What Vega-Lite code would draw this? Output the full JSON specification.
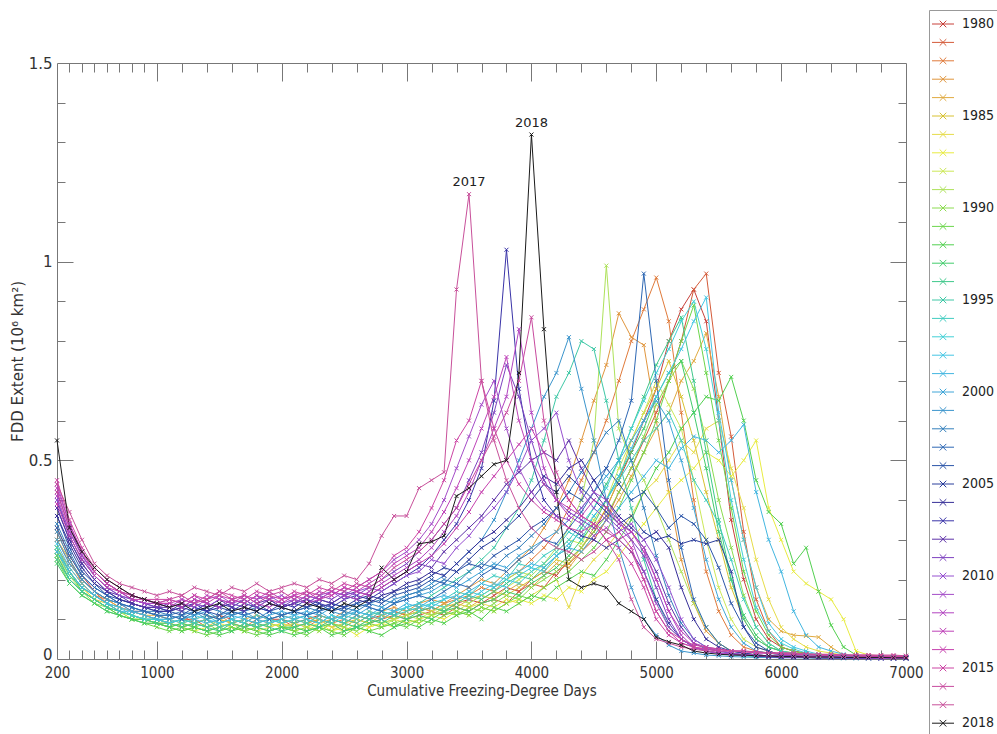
{
 "$schema": "https://vega.github.io/schema/vega-lite/v6.json",
 "width": 849,
 "height": 596,
 "autosize": {"type": "none"},
 "padding": {"left": 57, "top": 63, "right": 91, "bottom": 75},
 "background": "white",
 "config": {
  "view": {"stroke": "#777", "strokeWidth": 1},
  "font": "DejaVu Sans",
  "axis": {"grid": false, "domain": false, "tickColor": "#777", "tickWidth": 1, "labelColor": "#333", "titleColor": "#333"}
 },
 "resolve": {"axis": {"x": "independent", "y": "independent"}},
 "layer": [
  {
   "data": {"values": [
    {"year":1980,"x":[200,300,400,500,600,700,800,900,1000,1100,1200,1300,1400,1500,1600,1700,1800,1900,2000,2100,2200,2300,2400,2500,2600,2700,2800,2900,3000,3100,3200,3300,3400,3500,3600,3700,3800,3900,4000,4100,4200,4300,4400,4500,4600,4700,4800,4900,5000,5100,5200,5300,5400,5500,5600,5700,5800,5900,6000,6100,6200,6300,6400,6500,6600,6700,6800,6900,7000],"y":[0.33,0.26,0.21,0.17,0.15,0.14,0.12,0.12,0.11,0.10,0.11,0.09,0.10,0.11,0.10,0.09,0.11,0.10,0.10,0.09,0.10,0.11,0.10,0.09,0.11,0.10,0.11,0.12,0.11,0.12,0.13,0.12,0.14,0.15,0.14,0.16,0.18,0.17,0.20,0.22,0.21,0.25,0.28,0.32,0.38,0.45,0.52,0.60,0.68,0.80,0.88,0.93,0.85,0.60,0.35,0.20,0.10,0.05,0.03,0.02,0.015,0.01,0.01,0.008,0.006,0.005,0.005,0.004,0.004]},
    {"year":1981,"x":[200,300,400,500,600,700,800,900,1000,1100,1200,1300,1400,1500,1600,1700,1800,1900,2000,2100,2200,2300,2400,2500,2600,2700,2800,2900,3000,3100,3200,3300,3400,3500,3600,3700,3800,3900,4000,4100,4200,4300,4400,4500,4600,4700,4800,4900,5000,5100,5200,5300,5400,5500,5600,5700,5800,5900,6000,6100,6200,6300,6400,6500,6600,6700,6800,6900,7000],"y":[0.30,0.24,0.20,0.17,0.14,0.13,0.12,0.11,0.10,0.09,0.10,0.10,0.08,0.09,0.10,0.09,0.08,0.09,0.10,0.08,0.09,0.10,0.09,0.08,0.10,0.09,0.10,0.11,0.10,0.11,0.12,0.11,0.13,0.12,0.14,0.15,0.14,0.17,0.19,0.18,0.22,0.24,0.27,0.30,0.35,0.42,0.48,0.55,0.62,0.70,0.80,0.93,0.97,0.72,0.56,0.32,0.15,0.07,0.03,0.02,0.012,0.01,0.008,0.006,0.005,0.005,0.004,0.004,0.003]},
    {"year":1982,"x":[200,300,400,500,600,700,800,900,1000,1100,1200,1300,1400,1500,1600,1700,1800,1900,2000,2100,2200,2300,2400,2500,2600,2700,2800,2900,3000,3100,3200,3300,3400,3500,3600,3700,3800,3900,4000,4100,4200,4300,4400,4500,4600,4700,4800,4900,5000,5100,5200,5300,5400,5500,5600,5700,5800,5900,6000,6100,6200,6300,6400,6500,6600,6700,6800,6900,7000],"y":[0.32,0.25,0.19,0.16,0.15,0.13,0.12,0.11,0.10,0.09,0.08,0.09,0.10,0.08,0.09,0.08,0.10,0.09,0.08,0.09,0.08,0.10,0.09,0.10,0.09,0.11,0.10,0.12,0.11,0.13,0.12,0.14,0.15,0.16,0.18,0.17,0.20,0.22,0.25,0.28,0.32,0.38,0.45,0.52,0.60,0.70,0.80,0.88,0.96,0.85,0.62,0.40,0.22,0.12,0.06,0.03,0.02,0.015,0.01,0.008,0.006,0.005,0.005,0.004,0.004,0.003,0.003,0.003,0.003]},
    {"year":1983,"x":[200,300,400,500,600,700,800,900,1000,1100,1200,1300,1400,1500,1600,1700,1800,1900,2000,2100,2200,2300,2400,2500,2600,2700,2800,2900,3000,3100,3200,3300,3400,3500,3600,3700,3800,3900,4000,4100,4200,4300,4400,4500,4600,4700,4800,4900,5000,5100,5200,5300,5400,5500,5600,5700,5800,5900,6000,6100,6200,6300,6400,6500,6600,6700,6800,6900,7000],"y":[0.28,0.23,0.19,0.16,0.14,0.12,0.11,0.10,0.10,0.09,0.10,0.09,0.10,0.11,0.09,0.10,0.09,0.10,0.11,0.10,0.09,0.11,0.10,0.12,0.11,0.10,0.12,0.13,0.12,0.14,0.15,0.14,0.16,0.18,0.20,0.19,0.22,0.25,0.28,0.33,0.38,0.45,0.55,0.65,0.74,0.87,0.81,0.79,0.60,0.42,0.25,0.14,0.07,0.04,0.02,0.015,0.01,0.008,0.006,0.005,0.005,0.004,0.004,0.003,0.003,0.003,0.003,0.002,0.002]},
    {"year":1984,"x":[200,300,400,500,600,700,800,900,1000,1100,1200,1300,1400,1500,1600,1700,1800,1900,2000,2100,2200,2300,2400,2500,2600,2700,2800,2900,3000,3100,3200,3300,3400,3500,3600,3700,3800,3900,4000,4100,4200,4300,4400,4500,4600,4700,4800,4900,5000,5100,5200,5300,5400,5500,5600,5700,5800,5900,6000,6100,6200,6300,6400,6500,6600,6700,6800,6900,7000],"y":[0.30,0.25,0.20,0.17,0.15,0.13,0.12,0.11,0.11,0.10,0.09,0.10,0.11,0.10,0.09,0.10,0.11,0.10,0.09,0.10,0.11,0.09,0.10,0.11,0.10,0.12,0.11,0.10,0.12,0.13,0.12,0.14,0.13,0.15,0.16,0.15,0.17,0.19,0.18,0.21,0.24,0.23,0.27,0.31,0.35,0.40,0.46,0.52,0.58,0.62,0.70,0.75,0.82,0.66,0.45,0.30,0.18,0.10,0.07,0.06,0.058,0.055,0.03,0.01,0.006,0.005,0.004,0.004,0.003]},
    {"year":1985,"x":[200,300,400,500,600,700,800,900,1000,1100,1200,1300,1400,1500,1600,1700,1800,1900,2000,2100,2200,2300,2400,2500,2600,2700,2800,2900,3000,3100,3200,3300,3400,3500,3600,3700,3800,3900,4000,4100,4200,4300,4400,4500,4600,4700,4800,4900,5000,5100,5200,5300,5400,5500,5600,5700,5800,5900,6000,6100,6200,6300,6400,6500,6600,6700,6800,6900,7000],"y":[0.27,0.22,0.18,0.15,0.14,0.12,0.11,0.10,0.09,0.09,0.08,0.09,0.08,0.10,0.09,0.08,0.09,0.08,0.09,0.08,0.09,0.10,0.08,0.09,0.10,0.09,0.11,0.10,0.11,0.12,0.11,0.13,0.14,0.13,0.15,0.17,0.16,0.18,0.20,0.22,0.25,0.24,0.28,0.33,0.38,0.45,0.55,0.62,0.68,0.75,0.66,0.55,0.42,0.30,0.18,0.10,0.05,0.03,0.02,0.015,0.01,0.008,0.006,0.005,0.005,0.004,0.004,0.003,0.003]},
    {"year":1986,"x":[200,300,400,500,600,700,800,900,1000,1100,1200,1300,1400,1500,1600,1700,1800,1900,2000,2100,2200,2300,2400,2500,2600,2700,2800,2900,3000,3100,3200,3300,3400,3500,3600,3700,3800,3900,4000,4100,4200,4300,4400,4500,4600,4700,4800,4900,5000,5100,5200,5300,5400,5500,5600,5700,5800,5900,6000,6100,6200,6300,6400,6500,6600,6700,6800,6900,7000],"y":[0.26,0.21,0.18,0.15,0.13,0.12,0.11,0.10,0.09,0.08,0.09,0.08,0.07,0.08,0.09,0.08,0.07,0.08,0.09,0.08,0.07,0.09,0.08,0.07,0.09,0.08,0.09,0.10,0.09,0.10,0.11,0.12,0.11,0.13,0.14,0.13,0.15,0.14,0.16,0.18,0.20,0.13,0.21,0.25,0.28,0.32,0.36,0.42,0.45,0.50,0.55,0.52,0.58,0.60,0.48,0.38,0.25,0.15,0.08,0.05,0.03,0.02,0.015,0.01,0.008,0.006,0.005,0.004,0.004]},
    {"year":1987,"x":[200,300,400,500,600,700,800,900,1000,1100,1200,1300,1400,1500,1600,1700,1800,1900,2000,2100,2200,2300,2400,2500,2600,2700,2800,2900,3000,3100,3200,3300,3400,3500,3600,3700,3800,3900,4000,4100,4200,4300,4400,4500,4600,4700,4800,4900,5000,5100,5200,5300,5400,5500,5600,5700,5800,5900,6000,6100,6200,6300,6400,6500,6600,6700,6800,6900,7000],"y":[0.25,0.20,0.17,0.15,0.13,0.12,0.10,0.10,0.09,0.09,0.08,0.07,0.08,0.09,0.08,0.07,0.08,0.09,0.08,0.07,0.08,0.09,0.07,0.08,0.06,0.08,0.09,0.08,0.10,0.09,0.11,0.10,0.12,0.11,0.13,0.12,0.14,0.15,0.14,0.16,0.15,0.18,0.17,0.20,0.22,0.26,0.30,0.34,0.38,0.42,0.45,0.48,0.52,0.50,0.46,0.50,0.55,0.38,0.30,0.22,0.19,0.17,0.15,0.10,0.02,0.01,0.008,0.006,0.005]},
    {"year":1988,"x":[200,300,400,500,600,700,800,900,1000,1100,1200,1300,1400,1500,1600,1700,1800,1900,2000,2100,2200,2300,2400,2500,2600,2700,2800,2900,3000,3100,3200,3300,3400,3500,3600,3700,3800,3900,4000,4100,4200,4300,4400,4500,4600,4700,4800,4900,5000,5100,5200,5300,5400,5500,5600,5700,5800,5900,6000,6100,6200,6300,6400,6500,6600,6700,6800,6900,7000],"y":[0.28,0.22,0.18,0.16,0.14,0.12,0.11,0.10,0.10,0.09,0.08,0.09,0.10,0.08,0.07,0.09,0.08,0.09,0.08,0.09,0.08,0.07,0.09,0.08,0.10,0.09,0.08,0.10,0.11,0.10,0.12,0.13,0.12,0.14,0.16,0.15,0.18,0.20,0.22,0.24,0.27,0.30,0.29,0.35,0.40,0.48,0.55,0.62,0.70,0.64,0.58,0.45,0.30,0.18,0.10,0.05,0.03,0.02,0.01,0.008,0.006,0.005,0.005,0.004,0.004,0.003,0.003,0.003,0.003]},
    {"year":1989,"x":[200,300,400,500,600,700,800,900,1000,1100,1200,1300,1400,1500,1600,1700,1800,1900,2000,2100,2200,2300,2400,2500,2600,2700,2800,2900,3000,3100,3200,3300,3400,3500,3600,3700,3800,3900,4000,4100,4200,4300,4400,4500,4600,4700,4800,4900,5000,5100,5200,5300,5400,5500,5600,5700,5800,5900,6000,6100,6200,6300,6400,6500,6600,6700,6800,6900,7000],"y":[0.27,0.21,0.17,0.15,0.13,0.12,0.10,0.10,0.09,0.08,0.09,0.08,0.07,0.08,0.09,0.07,0.08,0.09,0.08,0.08,0.09,0.08,0.07,0.09,0.08,0.10,0.09,0.10,0.11,0.12,0.11,0.13,0.15,0.14,0.16,0.18,0.20,0.22,0.21,0.24,0.28,0.33,0.40,0.55,0.99,0.58,0.50,0.45,0.38,0.30,0.22,0.14,0.08,0.04,0.02,0.015,0.01,0.008,0.006,0.005,0.005,0.004,0.004,0.003,0.003,0.003,0.003,0.002,0.002]},
    {"year":1990,"x":[200,300,400,500,600,700,800,900,1000,1100,1200,1300,1400,1500,1600,1700,1800,1900,2000,2100,2200,2300,2400,2500,2600,2700,2800,2900,3000,3100,3200,3300,3400,3500,3600,3700,3800,3900,4000,4100,4200,4300,4400,4500,4600,4700,4800,4900,5000,5100,5200,5300,5400,5500,5600,5700,5800,5900,6000,6100,6200,6300,6400,6500,6600,6700,6800,6900,7000],"y":[0.26,0.20,0.17,0.14,0.13,0.11,0.10,0.09,0.09,0.08,0.07,0.08,0.09,0.07,0.08,0.07,0.08,0.07,0.08,0.07,0.08,0.07,0.09,0.08,0.07,0.09,0.08,0.09,0.10,0.09,0.11,0.12,0.11,0.13,0.12,0.14,0.16,0.15,0.18,0.20,0.22,0.25,0.28,0.32,0.36,0.42,0.48,0.56,0.64,0.70,0.75,0.68,0.55,0.40,0.28,0.16,0.08,0.04,0.02,0.015,0.01,0.008,0.006,0.005,0.004,0.004,0.003,0.003,0.003]},
    {"year":1991,"x":[200,300,400,500,600,700,800,900,1000,1100,1200,1300,1400,1500,1600,1700,1800,1900,2000,2100,2200,2300,2400,2500,2600,2700,2800,2900,3000,3100,3200,3300,3400,3500,3600,3700,3800,3900,4000,4100,4200,4300,4400,4500,4600,4700,4800,4900,5000,5100,5200,5300,5400,5500,5600,5700,5800,5900,6000,6100,6200,6300,6400,6500,6600,6700,6800,6900,7000],"y":[0.25,0.19,0.16,0.14,0.12,0.11,0.10,0.09,0.08,0.07,0.08,0.07,0.06,0.07,0.08,0.07,0.06,0.07,0.08,0.07,0.06,0.08,0.07,0.06,0.08,0.07,0.08,0.09,0.08,0.10,0.09,0.11,0.12,0.11,0.13,0.12,0.14,0.16,0.15,0.18,0.20,0.22,0.25,0.28,0.32,0.38,0.45,0.52,0.60,0.70,0.80,0.89,0.72,0.55,0.38,0.22,0.12,0.06,0.03,0.02,0.012,0.01,0.008,0.006,0.005,0.004,0.004,0.003,0.003]},
    {"year":1992,"x":[200,300,400,500,600,700,800,900,1000,1100,1200,1300,1400,1500,1600,1700,1800,1900,2000,2100,2200,2300,2400,2500,2600,2700,2800,2900,3000,3100,3200,3300,3400,3500,3600,3700,3800,3900,4000,4100,4200,4300,4400,4500,4600,4700,4800,4900,5000,5100,5200,5300,5400,5500,5600,5700,5800,5900,6000,6100,6200,6300,6400,6500,6600,6700,6800,6900,7000],"y":[0.28,0.22,0.17,0.15,0.13,0.11,0.10,0.10,0.09,0.08,0.07,0.08,0.07,0.06,0.07,0.08,0.07,0.06,0.07,0.06,0.07,0.08,0.06,0.07,0.08,0.07,0.06,0.08,0.09,0.08,0.10,0.09,0.11,0.12,0.10,0.13,0.12,0.14,0.16,0.15,0.18,0.20,0.22,0.21,0.25,0.30,0.35,0.42,0.48,0.52,0.58,0.62,0.66,0.65,0.71,0.60,0.45,0.37,0.34,0.24,0.28,0.17,0.085,0.03,0.01,0.006,0.005,0.004,0.004]},
    {"year":1993,"x":[200,300,400,500,600,700,800,900,1000,1100,1200,1300,1400,1500,1600,1700,1800,1900,2000,2100,2200,2300,2400,2500,2600,2700,2800,2900,3000,3100,3200,3300,3400,3500,3600,3700,3800,3900,4000,4100,4200,4300,4400,4500,4600,4700,4800,4900,5000,5100,5200,5300,5400,5500,5600,5700,5800,5900,6000,6100,6200,6300,6400,6500,6600,6700,6800,6900,7000],"y":[0.24,0.19,0.16,0.14,0.12,0.11,0.10,0.09,0.09,0.08,0.09,0.08,0.07,0.08,0.07,0.09,0.08,0.07,0.08,0.08,0.07,0.08,0.09,0.07,0.08,0.09,0.10,0.08,0.10,0.11,0.10,0.12,0.13,0.12,0.14,0.15,0.17,0.16,0.19,0.21,0.23,0.26,0.30,0.34,0.40,0.46,0.52,0.58,0.66,0.72,0.75,0.62,0.48,0.32,0.20,0.11,0.06,0.03,0.02,0.012,0.01,0.008,0.006,0.005,0.004,0.004,0.003,0.003,0.003]},
    {"year":1994,"x":[200,300,400,500,600,700,800,900,1000,1100,1200,1300,1400,1500,1600,1700,1800,1900,2000,2100,2200,2300,2400,2500,2600,2700,2800,2900,3000,3100,3200,3300,3400,3500,3600,3700,3800,3900,4000,4100,4200,4300,4400,4500,4600,4700,4800,4900,5000,5100,5200,5300,5400,5500,5600,5700,5800,5900,6000,6100,6200,6300,6400,6500,6600,6700,6800,6900,7000],"y":[0.26,0.20,0.17,0.15,0.13,0.12,0.11,0.10,0.09,0.09,0.08,0.09,0.08,0.07,0.09,0.08,0.09,0.08,0.07,0.08,0.09,0.08,0.10,0.09,0.08,0.10,0.09,0.11,0.10,0.12,0.13,0.12,0.14,0.16,0.15,0.17,0.19,0.21,0.20,0.23,0.26,0.28,0.33,0.38,0.44,0.50,0.58,0.66,0.74,0.80,0.86,0.70,0.52,0.35,0.20,0.10,0.05,0.03,0.02,0.012,0.01,0.008,0.006,0.005,0.004,0.004,0.003,0.003,0.003]},
    {"year":1995,"x":[200,300,400,500,600,700,800,900,1000,1100,1200,1300,1400,1500,1600,1700,1800,1900,2000,2100,2200,2300,2400,2500,2600,2700,2800,2900,3000,3100,3200,3300,3400,3500,3600,3700,3800,3900,4000,4100,4200,4300,4400,4500,4600,4700,4800,4900,5000,5100,5200,5300,5400,5500,5600,5700,5800,5900,6000,6100,6200,6300,6400,6500,6600,6700,6800,6900,7000],"y":[0.25,0.20,0.17,0.15,0.13,0.12,0.11,0.10,0.10,0.09,0.10,0.09,0.08,0.09,0.10,0.09,0.08,0.09,0.10,0.09,0.10,0.09,0.11,0.10,0.09,0.11,0.12,0.11,0.13,0.14,0.16,0.18,0.20,0.22,0.25,0.28,0.33,0.38,0.45,0.55,0.66,0.72,0.80,0.78,0.65,0.50,0.38,0.25,0.15,0.08,0.05,0.03,0.02,0.015,0.01,0.008,0.006,0.005,0.004,0.004,0.003,0.003,0.003,0.002,0.002,0.002,0.002,0.002,0.002]},
    {"year":1996,"x":[200,300,400,500,600,700,800,900,1000,1100,1200,1300,1400,1500,1600,1700,1800,1900,2000,2100,2200,2300,2400,2500,2600,2700,2800,2900,3000,3100,3200,3300,3400,3500,3600,3700,3800,3900,4000,4100,4200,4300,4400,4500,4600,4700,4800,4900,5000,5100,5200,5300,5400,5500,5600,5700,5800,5900,6000,6100,6200,6300,6400,6500,6600,6700,6800,6900,7000],"y":[0.27,0.21,0.18,0.16,0.14,0.12,0.11,0.10,0.10,0.09,0.10,0.09,0.10,0.08,0.09,0.10,0.09,0.10,0.09,0.10,0.09,0.11,0.10,0.09,0.11,0.10,0.12,0.11,0.12,0.13,0.14,0.15,0.17,0.16,0.19,0.21,0.20,0.24,0.23,0.26,0.28,0.32,0.30,0.36,0.40,0.45,0.50,0.55,0.58,0.62,0.55,0.45,0.40,0.34,0.25,0.15,0.08,0.04,0.02,0.015,0.01,0.008,0.006,0.005,0.004,0.004,0.003,0.003,0.003]},
    {"year":1997,"x":[200,300,400,500,600,700,800,900,1000,1100,1200,1300,1400,1500,1600,1700,1800,1900,2000,2100,2200,2300,2400,2500,2600,2700,2800,2900,3000,3100,3200,3300,3400,3500,3600,3700,3800,3900,4000,4100,4200,4300,4400,4500,4600,4700,4800,4900,5000,5100,5200,5300,5400,5500,5600,5700,5800,5900,6000,6100,6200,6300,6400,6500,6600,6700,6800,6900,7000],"y":[0.28,0.22,0.18,0.16,0.14,0.13,0.11,0.10,0.10,0.10,0.09,0.10,0.11,0.09,0.10,0.09,0.11,0.10,0.09,0.10,0.11,0.10,0.09,0.11,0.10,0.12,0.11,0.12,0.13,0.12,0.14,0.13,0.15,0.17,0.16,0.18,0.20,0.19,0.22,0.24,0.27,0.30,0.34,0.38,0.43,0.50,0.58,0.65,0.72,0.78,0.85,0.90,0.78,0.60,0.40,0.25,0.13,0.07,0.04,0.025,0.015,0.01,0.008,0.006,0.005,0.004,0.004,0.003,0.003]},
    {"year":1998,"x":[200,300,400,500,600,700,800,900,1000,1100,1200,1300,1400,1500,1600,1700,1800,1900,2000,2100,2200,2300,2400,2500,2600,2700,2800,2900,3000,3100,3200,3300,3400,3500,3600,3700,3800,3900,4000,4100,4200,4300,4400,4500,4600,4700,4800,4900,5000,5100,5200,5300,5400,5500,5600,5700,5800,5900,6000,6100,6200,6300,6400,6500,6600,6700,6800,6900,7000],"y":[0.29,0.23,0.19,0.16,0.14,0.13,0.12,0.11,0.10,0.09,0.10,0.11,0.10,0.09,0.10,0.11,0.10,0.09,0.10,0.11,0.10,0.09,0.11,0.10,0.12,0.11,0.10,0.12,0.13,0.14,0.13,0.15,0.16,0.15,0.17,0.19,0.18,0.21,0.23,0.22,0.26,0.29,0.32,0.36,0.40,0.46,0.53,0.60,0.66,0.72,0.78,0.85,0.91,0.62,0.45,0.30,0.18,0.09,0.05,0.03,0.02,0.012,0.008,0.006,0.005,0.004,0.004,0.003,0.003]},
    {"year":1999,"x":[200,300,400,500,600,700,800,900,1000,1100,1200,1300,1400,1500,1600,1700,1800,1900,2000,2100,2200,2300,2400,2500,2600,2700,2800,2900,3000,3100,3200,3300,3400,3500,3600,3700,3800,3900,4000,4100,4200,4300,4400,4500,4600,4700,4800,4900,5000,5100,5200,5300,5400,5500,5600,5700,5800,5900,6000,6100,6200,6300,6400,6500,6600,6700,6800,6900,7000],"y":[0.27,0.22,0.18,0.16,0.14,0.12,0.12,0.11,0.10,0.10,0.11,0.10,0.09,0.10,0.11,0.10,0.09,0.10,0.11,0.10,0.11,0.12,0.10,0.11,0.12,0.11,0.13,0.12,0.14,0.13,0.15,0.16,0.15,0.17,0.19,0.18,0.21,0.22,0.24,0.23,0.26,0.28,0.27,0.31,0.35,0.38,0.42,0.46,0.50,0.48,0.53,0.56,0.55,0.52,0.55,0.59,0.42,0.30,0.22,0.12,0.06,0.03,0.02,0.012,0.008,0.006,0.005,0.004,0.004]},
    {"year":2000,"x":[200,300,400,500,600,700,800,900,1000,1100,1200,1300,1400,1500,1600,1700,1800,1900,2000,2100,2200,2300,2400,2500,2600,2700,2800,2900,3000,3100,3200,3300,3400,3500,3600,3700,3800,3900,4000,4100,4200,4300,4400,4500,4600,4700,4800,4900,5000,5100,5200,5300,5400,5500,5600,5700,5800,5900,6000,6100,6200,6300,6400,6500,6600,6700,6800,6900,7000],"y":[0.30,0.24,0.20,0.17,0.15,0.14,0.12,0.12,0.11,0.11,0.10,0.11,0.12,0.10,0.11,0.12,0.10,0.11,0.12,0.11,0.12,0.11,0.13,0.12,0.11,0.13,0.12,0.14,0.15,0.16,0.17,0.19,0.18,0.20,0.22,0.24,0.23,0.26,0.28,0.30,0.32,0.35,0.38,0.42,0.46,0.50,0.55,0.60,0.65,0.60,0.50,0.38,0.25,0.15,0.08,0.04,0.02,0.015,0.01,0.008,0.006,0.005,0.004,0.004,0.003,0.003,0.003,0.002,0.002]},
    {"year":2001,"x":[200,300,400,500,600,700,800,900,1000,1100,1200,1300,1400,1500,1600,1700,1800,1900,2000,2100,2200,2300,2400,2500,2600,2700,2800,2900,3000,3100,3200,3300,3400,3500,3600,3700,3800,3900,4000,4100,4200,4300,4400,4500,4600,4700,4800,4900,5000,5100,5200,5300,5400,5500,5600,5700,5800,5900,6000,6100,6200,6300,6400,6500,6600,6700,6800,6900,7000],"y":[0.32,0.25,0.20,0.17,0.15,0.14,0.13,0.12,0.11,0.10,0.11,0.12,0.10,0.11,0.12,0.11,0.10,0.12,0.11,0.12,0.11,0.13,0.12,0.11,0.13,0.14,0.13,0.15,0.16,0.17,0.19,0.21,0.24,0.27,0.30,0.35,0.42,0.50,0.58,0.66,0.72,0.81,0.68,0.55,0.40,0.28,0.18,0.10,0.06,0.035,0.02,0.015,0.01,0.008,0.006,0.005,0.004,0.004,0.003,0.003,0.003,0.003,0.002,0.002,0.002,0.002,0.002,0.002,0.002]},
    {"year":2002,"x":[200,300,400,500,600,700,800,900,1000,1100,1200,1300,1400,1500,1600,1700,1800,1900,2000,2100,2200,2300,2400,2500,2600,2700,2800,2900,3000,3100,3200,3300,3400,3500,3600,3700,3800,3900,4000,4100,4200,4300,4400,4500,4600,4700,4800,4900,5000,5100,5200,5300,5400,5500,5600,5700,5800,5900,6000,6100,6200,6300,6400,6500,6600,6700,6800,6900,7000],"y":[0.34,0.27,0.21,0.18,0.16,0.14,0.13,0.12,0.12,0.11,0.12,0.11,0.13,0.12,0.11,0.12,0.13,0.12,0.11,0.12,0.13,0.12,0.14,0.13,0.12,0.14,0.15,0.14,0.16,0.17,0.18,0.20,0.19,0.22,0.24,0.23,0.26,0.28,0.31,0.34,0.38,0.42,0.47,0.52,0.57,0.60,0.50,0.38,0.26,0.16,0.09,0.05,0.03,0.02,0.015,0.01,0.008,0.006,0.005,0.004,0.004,0.003,0.003,0.003,0.002,0.002,0.002,0.002,0.002]},
    {"year":2003,"x":[200,300,400,500,600,700,800,900,1000,1100,1200,1300,1400,1500,1600,1700,1800,1900,2000,2100,2200,2300,2400,2500,2600,2700,2800,2900,3000,3100,3200,3300,3400,3500,3600,3700,3800,3900,4000,4100,4200,4300,4400,4500,4600,4700,4800,4900,5000,5100,5200,5300,5400,5500,5600,5700,5800,5900,6000,6100,6200,6300,6400,6500,6600,6700,6800,6900,7000],"y":[0.33,0.26,0.21,0.18,0.16,0.14,0.13,0.12,0.11,0.11,0.10,0.12,0.11,0.10,0.12,0.11,0.12,0.10,0.11,0.12,0.11,0.12,0.13,0.12,0.14,0.13,0.12,0.14,0.15,0.16,0.15,0.17,0.19,0.18,0.21,0.23,0.22,0.25,0.27,0.30,0.29,0.33,0.37,0.42,0.48,0.55,0.65,0.97,0.70,0.45,0.28,0.15,0.08,0.04,0.02,0.015,0.01,0.008,0.006,0.005,0.004,0.004,0.003,0.003,0.003,0.002,0.002,0.002,0.002]},
    {"year":2004,"x":[200,300,400,500,600,700,800,900,1000,1100,1200,1300,1400,1500,1600,1700,1800,1900,2000,2100,2200,2300,2400,2500,2600,2700,2800,2900,3000,3100,3200,3300,3400,3500,3600,3700,3800,3900,4000,4100,4200,4300,4400,4500,4600,4700,4800,4900,5000,5100,5200,5300,5400,5500,5600,5700,5800,5900,6000,6100,6200,6300,6400,6500,6600,6700,6800,6900,7000],"y":[0.36,0.28,0.22,0.19,0.16,0.15,0.14,0.13,0.12,0.12,0.11,0.13,0.12,0.11,0.13,0.12,0.14,0.12,0.13,0.12,0.13,0.14,0.12,0.13,0.14,0.15,0.14,0.16,0.17,0.18,0.20,0.19,0.22,0.24,0.23,0.26,0.28,0.30,0.33,0.35,0.38,0.42,0.40,0.45,0.48,0.44,0.40,0.42,0.38,0.33,0.36,0.34,0.30,0.23,0.14,0.08,0.04,0.02,0.01,0.008,0.006,0.005,0.004,0.004,0.003,0.003,0.003,0.002,0.002]},
    {"year":2005,"x":[200,300,400,500,600,700,800,900,1000,1100,1200,1300,1400,1500,1600,1700,1800,1900,2000,2100,2200,2300,2400,2500,2600,2700,2800,2900,3000,3100,3200,3300,3400,3500,3600,3700,3800,3900,4000,4100,4200,4300,4400,4500,4600,4700,4800,4900,5000,5100,5200,5300,5400,5500,5600,5700,5800,5900,6000,6100,6200,6300,6400,6500,6600,6700,6800,6900,7000],"y":[0.38,0.30,0.24,0.20,0.17,0.15,0.14,0.13,0.13,0.12,0.13,0.12,0.14,0.13,0.12,0.14,0.13,0.15,0.13,0.14,0.13,0.15,0.14,0.13,0.15,0.16,0.15,0.17,0.18,0.19,0.21,0.23,0.22,0.25,0.28,0.30,0.33,0.36,0.40,0.44,0.42,0.46,0.43,0.40,0.37,0.34,0.36,0.32,0.30,0.31,0.29,0.30,0.29,0.30,0.22,0.08,0.03,0.02,0.01,0.008,0.006,0.005,0.004,0.004,0.003,0.003,0.003,0.002,0.002]},
    {"year":2006,"x":[200,300,400,500,600,700,800,900,1000,1100,1200,1300,1400,1500,1600,1700,1800,1900,2000,2100,2200,2300,2400,2500,2600,2700,2800,2900,3000,3100,3200,3300,3400,3500,3600,3700,3800,3900,4000,4100,4200,4300,4400,4500,4600,4700,4800,4900,5000,5100,5200,5300,5400,5500,5600,5700,5800,5900,6000,6100,6200,6300,6400,6500,6600,6700,6800,6900,7000],"y":[0.36,0.29,0.23,0.19,0.17,0.15,0.14,0.13,0.12,0.12,0.13,0.14,0.12,0.13,0.14,0.13,0.12,0.14,0.13,0.14,0.15,0.13,0.14,0.16,0.15,0.14,0.16,0.17,0.19,0.20,0.22,0.21,0.24,0.27,0.30,0.32,0.35,0.38,0.42,0.46,0.44,0.48,0.50,0.45,0.40,0.36,0.33,0.30,0.32,0.28,0.18,0.10,0.05,0.03,0.02,0.015,0.01,0.008,0.006,0.005,0.005,0.004,0.004,0.003,0.003,0.003,0.002,0.002,0.002]},
    {"year":2007,"x":[200,300,400,500,600,700,800,900,1000,1100,1200,1300,1400,1500,1600,1700,1800,1900,2000,2100,2200,2300,2400,2500,2600,2700,2800,2900,3000,3100,3200,3300,3400,3500,3600,3700,3800,3900,4000,4100,4200,4300,4400,4500,4600,4700,4800,4900,5000,5100,5200,5300,5400,5500,5600,5700,5800,5900,6000,6100,6200,6300,6400,6500,6600,6700,6800,6900,7000],"y":[0.40,0.31,0.25,0.21,0.18,0.16,0.15,0.14,0.13,0.12,0.14,0.13,0.12,0.14,0.13,0.15,0.13,0.12,0.14,0.13,0.15,0.14,0.13,0.15,0.16,0.15,0.17,0.19,0.21,0.23,0.26,0.30,0.34,0.40,0.48,0.65,1.03,0.68,0.50,0.40,0.36,0.33,0.31,0.30,0.28,0.30,0.27,0.22,0.15,0.09,0.05,0.03,0.02,0.015,0.012,0.01,0.008,0.006,0.005,0.004,0.004,0.003,0.003,0.003,0.003,0.002,0.002,0.002,0.002]},
    {"year":2008,"x":[200,300,400,500,600,700,800,900,1000,1100,1200,1300,1400,1500,1600,1700,1800,1900,2000,2100,2200,2300,2400,2500,2600,2700,2800,2900,3000,3100,3200,3300,3400,3500,3600,3700,3800,3900,4000,4100,4200,4300,4400,4500,4600,4700,4800,4900,5000,5100,5200,5300,5400,5500,5600,5700,5800,5900,6000,6100,6200,6300,6400,6500,6600,6700,6800,6900,7000],"y":[0.38,0.30,0.24,0.20,0.17,0.16,0.14,0.13,0.13,0.13,0.12,0.14,0.13,0.15,0.13,0.12,0.14,0.15,0.13,0.14,0.16,0.15,0.14,0.16,0.17,0.16,0.18,0.20,0.22,0.24,0.23,0.27,0.30,0.33,0.36,0.40,0.44,0.47,0.50,0.52,0.50,0.55,0.48,0.42,0.38,0.35,0.32,0.28,0.22,0.14,0.08,0.04,0.025,0.02,0.015,0.01,0.008,0.006,0.005,0.004,0.004,0.003,0.003,0.003,0.003,0.002,0.002,0.002,0.002]},
    {"year":2009,"x":[200,300,400,500,600,700,800,900,1000,1100,1200,1300,1400,1500,1600,1700,1800,1900,2000,2100,2200,2300,2400,2500,2600,2700,2800,2900,3000,3100,3200,3300,3400,3500,3600,3700,3800,3900,4000,4100,4200,4300,4400,4500,4600,4700,4800,4900,5000,5100,5200,5300,5400,5500,5600,5700,5800,5900,6000,6100,6200,6300,6400,6500,6600,6700,6800,6900,7000],"y":[0.42,0.33,0.26,0.22,0.19,0.17,0.15,0.14,0.13,0.14,0.13,0.15,0.14,0.13,0.15,0.14,0.16,0.14,0.13,0.15,0.14,0.16,0.15,0.17,0.16,0.18,0.20,0.22,0.24,0.27,0.30,0.34,0.38,0.45,0.52,0.62,0.74,0.66,0.55,0.45,0.40,0.37,0.35,0.33,0.36,0.33,0.30,0.26,0.18,0.10,0.05,0.03,0.02,0.015,0.012,0.01,0.008,0.006,0.005,0.005,0.004,0.004,0.003,0.003,0.003,0.003,0.002,0.002,0.002]},
    {"year":2010,"x":[200,300,400,500,600,700,800,900,1000,1100,1200,1300,1400,1500,1600,1700,1800,1900,2000,2100,2200,2300,2400,2500,2600,2700,2800,2900,3000,3100,3200,3300,3400,3500,3600,3700,3800,3900,4000,4100,4200,4300,4400,4500,4600,4700,4800,4900,5000,5100,5200,5300,5400,5500,5600,5700,5800,5900,6000,6100,6200,6300,6400,6500,6600,6700,6800,6900,7000],"y":[0.40,0.32,0.26,0.21,0.18,0.16,0.15,0.14,0.14,0.13,0.15,0.14,0.13,0.15,0.14,0.13,0.15,0.16,0.14,0.15,0.14,0.16,0.17,0.15,0.17,0.18,0.17,0.19,0.21,0.22,0.25,0.24,0.28,0.31,0.35,0.38,0.42,0.48,0.55,0.58,0.62,0.50,0.42,0.38,0.35,0.32,0.34,0.30,0.25,0.18,0.10,0.05,0.03,0.02,0.015,0.012,0.01,0.008,0.006,0.005,0.005,0.004,0.004,0.003,0.003,0.003,0.002,0.002,0.002]},
    {"year":2011,"x":[200,300,400,500,600,700,800,900,1000,1100,1200,1300,1400,1500,1600,1700,1800,1900,2000,2100,2200,2300,2400,2500,2600,2700,2800,2900,3000,3100,3200,3300,3400,3500,3600,3700,3800,3900,4000,4100,4200,4300,4400,4500,4600,4700,4800,4900,5000,5100,5200,5300,5400,5500,5600,5700,5800,5900,6000,6100,6200,6300,6400,6500,6600,6700,6800,6900,7000],"y":[0.44,0.34,0.27,0.22,0.19,0.17,0.16,0.15,0.14,0.15,0.14,0.13,0.15,0.16,0.14,0.15,0.13,0.15,0.16,0.14,0.16,0.15,0.17,0.16,0.18,0.20,0.22,0.25,0.27,0.30,0.34,0.40,0.48,0.56,0.64,0.70,0.58,0.48,0.42,0.38,0.36,0.35,0.38,0.42,0.40,0.35,0.30,0.22,0.14,0.08,0.05,0.03,0.02,0.015,0.012,0.01,0.01,0.008,0.008,0.006,0.006,0.005,0.005,0.004,0.004,0.004,0.003,0.003,0.003]},
    {"year":2012,"x":[200,300,400,500,600,700,800,900,1000,1100,1200,1300,1400,1500,1600,1700,1800,1900,2000,2100,2200,2300,2400,2500,2600,2700,2800,2900,3000,3100,3200,3300,3400,3500,3600,3700,3800,3900,4000,4100,4200,4300,4400,4500,4600,4700,4800,4900,5000,5100,5200,5300,5400,5500,5600,5700,5800,5900,6000,6100,6200,6300,6400,6500,6600,6700,6800,6900,7000],"y":[0.41,0.32,0.26,0.22,0.19,0.17,0.15,0.14,0.14,0.13,0.14,0.16,0.14,0.13,0.15,0.16,0.14,0.13,0.15,0.16,0.14,0.15,0.17,0.16,0.15,0.17,0.19,0.21,0.23,0.25,0.28,0.32,0.36,0.42,0.50,0.58,0.66,0.83,0.62,0.48,0.40,0.36,0.34,0.31,0.33,0.30,0.32,0.28,0.20,0.12,0.06,0.03,0.02,0.015,0.012,0.01,0.01,0.008,0.008,0.007,0.006,0.005,0.005,0.004,0.004,0.004,0.003,0.003,0.003]},
    {"year":2013,"x":[200,300,400,500,600,700,800,900,1000,1100,1200,1300,1400,1500,1600,1700,1800,1900,2000,2100,2200,2300,2400,2500,2600,2700,2800,2900,3000,3100,3200,3300,3400,3500,3600,3700,3800,3900,4000,4100,4200,4300,4400,4500,4600,4700,4800,4900,5000,5100,5200,5300,5400,5500,5600,5700,5800,5900,6000,6100,6200,6300,6400,6500,6600,6700,6800,6900,7000],"y":[0.43,0.34,0.27,0.22,0.19,0.17,0.16,0.15,0.14,0.14,0.15,0.14,0.16,0.15,0.14,0.16,0.15,0.17,0.15,0.16,0.15,0.17,0.16,0.18,0.17,0.19,0.21,0.24,0.26,0.28,0.32,0.37,0.43,0.50,0.58,0.66,0.76,0.60,0.50,0.44,0.40,0.38,0.36,0.40,0.38,0.34,0.32,0.27,0.20,0.12,0.07,0.04,0.03,0.025,0.02,0.02,0.015,0.015,0.012,0.01,0.01,0.01,0.008,0.008,0.007,0.006,0.006,0.005,0.005]},
    {"year":2014,"x":[200,300,400,500,600,700,800,900,1000,1100,1200,1300,1400,1500,1600,1700,1800,1900,2000,2100,2200,2300,2400,2500,2600,2700,2800,2900,3000,3100,3200,3300,3400,3500,3600,3700,3800,3900,4000,4100,4200,4300,4400,4500,4600,4700,4800,4900,5000,5100,5200,5300,5400,5500,5600,5700,5800,5900,6000,6100,6200,6300,6400,6500,6600,6700,6800,6900,7000],"y":[0.39,0.31,0.25,0.21,0.18,0.17,0.15,0.15,0.14,0.14,0.13,0.15,0.14,0.16,0.15,0.14,0.16,0.15,0.14,0.16,0.17,0.15,0.16,0.18,0.17,0.16,0.18,0.20,0.22,0.24,0.26,0.29,0.33,0.37,0.42,0.46,0.50,0.54,0.58,0.52,0.45,0.40,0.36,0.34,0.30,0.32,0.28,0.20,0.12,0.07,0.04,0.03,0.025,0.02,0.02,0.018,0.015,0.015,0.012,0.012,0.01,0.01,0.01,0.008,0.008,0.007,0.006,0.006,0.005]},
    {"year":2015,"x":[200,300,400,500,600,700,800,900,1000,1100,1200,1300,1400,1500,1600,1700,1800,1900,2000,2100,2200,2300,2400,2500,2600,2700,2800,2900,3000,3100,3200,3300,3400,3500,3600,3700,3800,3900,4000,4100,4200,4300,4400,4500,4600,4700,4800,4900,5000,5100,5200,5300,5400,5500,5600,5700,5800,5900,6000,6100,6200,6300,6400,6500,6600,6700,6800,6900,7000],"y":[0.45,0.35,0.28,0.23,0.20,0.18,0.16,0.15,0.15,0.15,0.14,0.16,0.15,0.17,0.16,0.15,0.17,0.16,0.15,0.17,0.16,0.18,0.17,0.19,0.18,0.20,0.22,0.26,0.28,0.32,0.38,0.45,0.55,0.60,0.70,0.58,0.50,0.44,0.40,0.37,0.35,0.33,0.32,0.34,0.30,0.28,0.24,0.18,0.10,0.06,0.04,0.03,0.025,0.025,0.02,0.02,0.018,0.015,0.015,0.015,0.012,0.012,0.01,0.01,0.01,0.01,0.008,0.008,0.008]},
    {"year":2016,"x":[200,300,400,500,600,700,800,900,1000,1100,1200,1300,1400,1500,1600,1700,1800,1900,2000,2100,2200,2300,2400,2500,2600,2700,2800,2900,3000,3100,3200,3300,3400,3500,3600,3700,3800,3900,4000,4100,4200,4300,4400,4500,4600,4700,4800,4900,5000,5100,5200,5300,5400,5500,5600,5700,5800,5900,6000,6100,6200,6300,6400,6500,6600,6700,6800,6900,7000],"y":[0.42,0.33,0.27,0.22,0.19,0.17,0.16,0.15,0.14,0.15,0.16,0.14,0.15,0.17,0.15,0.16,0.14,0.16,0.17,0.15,0.17,0.16,0.18,0.17,0.19,0.18,0.20,0.23,0.25,0.27,0.30,0.34,0.38,0.44,0.50,0.56,0.62,0.70,0.86,0.60,0.47,0.40,0.36,0.34,0.32,0.30,0.27,0.20,0.12,0.07,0.05,0.035,0.03,0.025,0.02,0.02,0.018,0.015,0.015,0.012,0.012,0.01,0.01,0.01,0.008,0.008,0.008,0.007,0.007]},
    {"year":2017,"x":[200,300,400,500,600,700,800,900,1000,1100,1200,1300,1400,1500,1600,1700,1800,1900,2000,2100,2200,2300,2400,2500,2600,2700,2800,2900,3000,3100,3200,3300,3400,3500,3600,3700,3800,3900,4000,4100,4200,4300,4400,4500,4600,4700,4800,4900,5000,5100,5200,5300,5400,5500,5600,5700,5800,5900,6000,6100,6200,6300,6400,6500,6600,6700,6800,6900,7000],"y":[0.44,0.37,0.30,0.24,0.21,0.19,0.18,0.17,0.16,0.17,0.16,0.18,0.17,0.16,0.18,0.17,0.19,0.17,0.18,0.19,0.18,0.20,0.19,0.21,0.20,0.24,0.31,0.36,0.36,0.43,0.45,0.47,0.93,1.17,0.70,0.55,0.45,0.38,0.33,0.30,0.28,0.27,0.25,0.27,0.30,0.25,0.15,0.08,0.05,0.04,0.03,0.025,0.02,0.02,0.02,0.018,0.018,0.015,0.015,0.015,0.012,0.012,0.012,0.01,0.01,0.01,0.01,0.01,0.008]},
    {"year":2018,"x":[200,300,400,500,600,700,800,900,1000,1100,1200,1300,1400,1500,1600,1700,1800,1900,2000,2100,2200,2300,2400,2500,2600,2700,2800,2900,3000,3100,3200,3300,3400,3500,3600,3700,3800,3900,4000,4100,4200,4300,4400,4500,4600,4700,4800,4900,5000,5100,5200,5300,5400,5500,5600,5700,5800,5900,6000,6100,6200,6300,6400,6500,6600,6700,6800,6900,7000],"y":[0.55,0.33,0.27,0.23,0.20,0.18,0.16,0.15,0.14,0.13,0.14,0.12,0.13,0.14,0.12,0.13,0.12,0.14,0.13,0.12,0.14,0.13,0.12,0.14,0.13,0.15,0.23,0.20,0.22,0.29,0.295,0.31,0.41,0.43,0.46,0.49,0.50,0.72,1.32,0.83,0.42,0.20,0.18,0.19,0.18,0.14,0.12,0.10,0.055,0.043,0.035,0.02,0.015,0.012,0.01,0.01,0.008,0.008,0.006,0.006,0.005,0.005,0.005,0.004,0.004,0.004,0.004,0.003,0.003]}
   ]},
   "transform": [{"flatten": ["x", "y"]}],
   "mark": {"type": "line", "strokeWidth": 1, "point": {"shape": "M-1,-1L1,1M-1,1L1,-1", "filled": false, "size": 16, "strokeWidth": 1}},
   "encoding": {
    "x": {"field": "x", "type": "quantitative", "scale": {"domain": [200, 7000], "nice": false, "zero": false},
     "axis": {"orient": "bottom", "values": [200,1000,2000,3000,4000,5000,6000,7000], "ticks": false, "labelFlush": false, "labelOverlap": false, "labelExpr": "datum.value + ''", "labelFont": "DejaVu Sans Condensed, Liberation Sans Narrow, DejaVu Sans", "labelFontSize": 15, "labelPadding": 6, "title": "Cumulative Freezing-Degree Days", "titleFont": "DejaVu Sans Condensed, Liberation Sans Narrow, DejaVu Sans", "titleFontSize": 15, "titleFontWeight": "normal", "titlePadding": 3}},
    "y": {"field": "y", "type": "quantitative", "scale": {"domain": [0, 1.5], "nice": false},
     "axis": {"orient": "left", "values": [0, 0.5, 1, 1.5], "ticks": false, "labelFlush": false, "labelOverlap": false, "labelExpr": "datum.value + ''", "labelBaseline": {"condition": {"test": "datum.value == 0", "value": "alphabetic"}, "value": "middle"}, "labelFont": "DejaVu Sans", "labelFontSize": 15, "labelPadding": 5, "title": "FDD Extent (10⁶ km²)", "titleFont": "DejaVu Sans", "titleFontSize": 15, "titleFontWeight": "normal", "titlePadding": 3}},
    "color": {"field": "year", "type": "nominal",
     "scale": {"domain": [1980,1981,1982,1983,1984,1985,1986,1987,1988,1989,1990,1991,1992,1993,1994,1995,1996,1997,1998,1999,2000,2001,2002,2003,2004,2005,2006,2007,2008,2009,2010,2011,2012,2013,2014,2015,2016,2017,2018],
      "range": ["#c8403a","#d45a38","#e07a3a","#e0953c","#e0aa40","#d8c232","#e6dc48","#e8ec40","#cce858","#aee25a","#8cdc50","#6cd64c","#52d050","#42cc6c","#3ec88a","#3ec8a6","#40ccc0","#42d0d6","#44c6e4","#42b6e0","#40a6d8","#3a94cc","#3480bc","#2e68b4","#2a54a8","#2a3e9c","#362e98","#3a34a8","#5e32a8","#7e42c0","#9650d0","#a44cc8","#b244c0","#be42b8","#c640ae","#cc44a4","#c84a9e","#c8509a","#1a1a1a"]},
     "legend": {"orient": "none", "legendX": 872, "legendY": -53, "title": null, "symbolLimit": 50, "symbolType": "M-2,0H2M-0.6,-0.6L0.6,0.6M-0.6,0.6L0.6,-0.6", "symbolSize": 121, "symbolStrokeWidth": 1, "labelOffset": 12, "labelExpr": "(datum.value % 5 == 0 || datum.value == 2018) ? datum.label : ''", "labelFont": "DejaVu Sans Condensed, Liberation Sans Narrow, DejaVu Sans", "labelFontSize": 14, "labelColor": "#222", "rowPadding": 4.4, "padding": 7, "strokeColor": "#999", "fillColor": "white"}}
   }
  },
  {
   "data": {"values": [{"x": 200, "y": 0}]},
   "mark": {"type": "point", "opacity": 0},
   "encoding": {
    "x": {"field": "x", "type": "quantitative", "scale": {"domain": [200, 7000], "nice": false, "zero": false},
     "axis": {"orient": "bottom", "values": [1000,2000,3000,4000,5000,6000], "labels": false, "title": null, "tickSize": 18, "offset": -18}},
    "y": {"field": "y", "type": "quantitative", "scale": {"domain": [0, 1.5], "nice": false},
     "axis": {"orient": "left", "values": [0.5, 1], "labels": false, "title": null, "tickSize": 16, "offset": -16}}
   }
  },
  {
   "data": {"values": [{"x": 200, "y": 0}]},
   "mark": {"type": "point", "opacity": 0},
   "encoding": {
    "x": {"field": "x", "type": "quantitative", "scale": {"domain": [200, 7000], "nice": false, "zero": false},
     "axis": {"orient": "bottom", "values": [300,400,500,600,700,800,900,1200,1400,1600,1800,2200,2400,2600,2800,3200,3400,3600,3800,4200,4400,4600,4800,5200,5400,5600,5800,6200,6400,6600,6800], "labels": false, "title": null, "tickSize": 9, "offset": -9}},
    "y": {"field": "y", "type": "quantitative", "scale": {"domain": [0, 1.5], "nice": false},
     "axis": {"orient": "left", "values": [0.1,0.2,0.3,0.4,0.6,0.7,0.8,0.9,1.1,1.2,1.3,1.4], "labels": false, "title": null, "tickSize": 8, "offset": -8}}
   }
  },
  {
   "data": {"values": [{"x": 200, "y": 0}]},
   "mark": {"type": "point", "opacity": 0},
   "encoding": {
    "x": {"field": "x", "type": "quantitative", "scale": {"domain": [200, 7000], "nice": false, "zero": false},
     "axis": {"orient": "top", "values": [1000,2000,3000,4000,5000,6000], "labels": false, "title": null, "tickSize": 18, "offset": -18}},
    "y": {"field": "y", "type": "quantitative", "scale": {"domain": [0, 1.5], "nice": false},
     "axis": {"orient": "right", "values": [0.5, 1], "labels": false, "title": null, "tickSize": 16, "offset": -16}}
   }
  },
  {
   "data": {"values": [{"x": 200, "y": 0}]},
   "mark": {"type": "point", "opacity": 0},
   "encoding": {
    "x": {"field": "x", "type": "quantitative", "scale": {"domain": [200, 7000], "nice": false, "zero": false},
     "axis": {"orient": "top", "values": [300,400,500,600,700,800,900,1200,1400,1600,1800,2200,2400,2600,2800,3200,3400,3600,3800,4200,4400,4600,4800,5200,5400,5600,5800,6200,6400,6600,6800], "labels": false, "title": null, "tickSize": 9, "offset": -9}},
    "y": {"field": "y", "type": "quantitative", "scale": {"domain": [0, 1.5], "nice": false},
     "axis": {"orient": "right", "values": [0.1,0.2,0.3,0.4,0.6,0.7,0.8,0.9,1.1,1.2,1.3,1.4], "labels": false, "title": null, "tickSize": 8, "offset": -8}}
   }
  },
  {
   "data": {"values": [{"x": 3500, "y": 1.17, "label": "2017"}, {"x": 4000, "y": 1.32, "label": "2018"}]},
   "mark": {"type": "text", "baseline": "bottom", "dy": -5, "fontSize": 13, "font": "DejaVu Sans", "color": "#222"},
   "encoding": {
    "x": {"field": "x", "type": "quantitative", "scale": {"domain": [200, 7000], "nice": false, "zero": false}, "axis": null},
    "y": {"field": "y", "type": "quantitative", "scale": {"domain": [0, 1.5], "nice": false}, "axis": null},
    "text": {"field": "label"}
   }
  }
 ]
}
